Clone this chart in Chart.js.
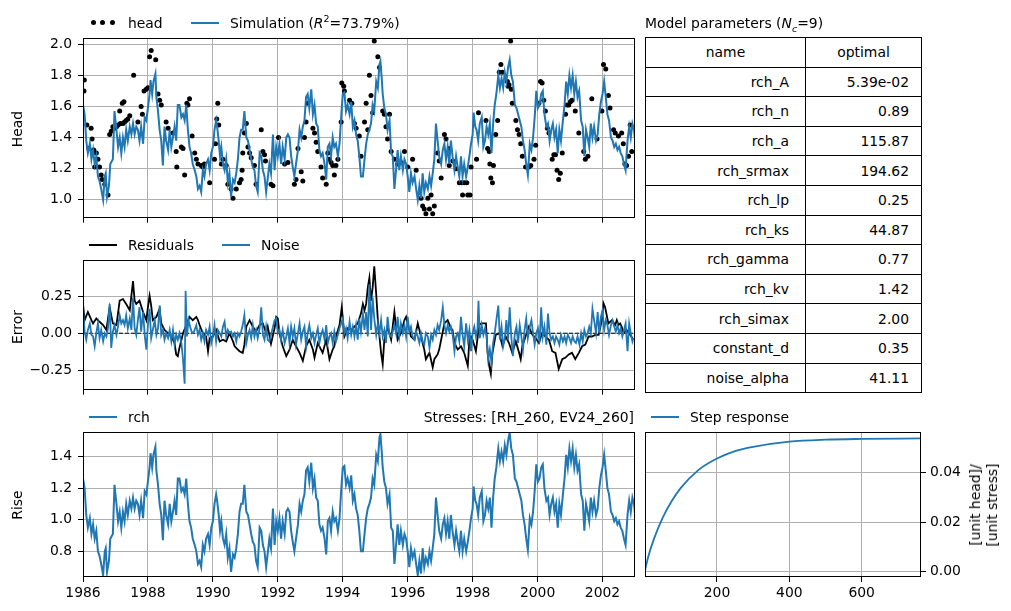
<!DOCTYPE html>
<html><head><meta charset="utf-8">
<script src="https://cdn.jsdelivr.net/npm/chart.js@4.4.0/dist/chart.umd.min.js"></script>
<style>
html,body{margin:0;padding:0;background:#fff;}
body{width:1011px;height:611px;position:relative;overflow:hidden;font-family:"DejaVu Sans",sans-serif;font-size:13.9px;color:#000;}
canvas{position:absolute;}
.t{position:absolute;white-space:nowrap;line-height:16px;height:16px;}
.ln{position:absolute;height:2px;width:28px;}
.dot{position:absolute;width:5px;height:5px;border-radius:50%;background:#000;}
.rot{position:absolute;white-space:nowrap;transform:translate(-50%,-50%) rotate(-90deg);line-height:17px;text-align:center;}
table{position:absolute;left:645px;top:37px;width:277px;border-collapse:collapse;font-size:13.9px;}
td{border:1px solid #000;height:28.6px;padding:0;}
td.n{text-align:right;padding-right:16px;width:143px;}
td.v{text-align:right;padding-right:12px;}
td.h{text-align:center;}
</style>
</head><body>
<canvas id="cHead" width="640" height="232" style="left:0;top:0"></canvas>
<canvas id="cErr" width="640" height="164" style="left:0;top:240px"></canvas>
<canvas id="cRise" width="640" height="201" style="left:0;top:410px"></canvas>
<canvas id="cStep" width="371" height="201" style="left:640px;top:410px"></canvas>

<div class="dot" style="left:91px;top:20px"></div><div class="dot" style="left:100px;top:20px"></div><div class="dot" style="left:110px;top:20px"></div>
<div class="t" style="left:128px;top:15px">head</div>
<div class="ln" style="left:191px;top:22px;background:#1f77b4"></div>
<div class="t" style="left:230px;top:15px">Simulation (<i>R</i><sup style="font-size:9.5px;line-height:0">2</sup>=73.79%)</div>
<div class="t" style="left:645px;top:15px">Model parameters (<i>N<sub style="font-size:9.5px;line-height:0">c</sub></i>=9)</div>

<div class="ln" style="left:89px;top:244px;background:#000"></div>
<div class="t" style="left:128px;top:237px">Residuals</div>
<div class="ln" style="left:222px;top:244px;background:#1f77b4"></div>
<div class="t" style="left:261px;top:237px">Noise</div>

<div class="ln" style="left:89px;top:416px;background:#1f77b4"></div>
<div class="t" style="left:128px;top:409px">rch</div>
<div class="t" style="right:377px;top:409px">Stresses: [RH_260, EV24_260]</div>
<div class="ln" style="left:651px;top:416px;background:#1f77b4"></div>
<div class="t" style="left:690px;top:409px">Step response</div>

<div class="rot" style="left:17px;top:129px">Head</div>
<div class="rot" style="left:17px;top:327px">Error</div>
<div class="rot" style="left:17px;top:505px">Rise</div>
<div class="rot" style="left:984px;top:505px">[unit head]/<br>[unit stress]</div>

<table id="tbl"></table>

<script>
// ---------------- data ----------------
const yearTicks = [1986, 1988, 1990, 1992, 1994, 1996, 1998, 2000, 2002];
const xLimits = [1986, 2003];
const headTicks = [1.0, 1.2, 1.4, 1.6, 1.8, 2.0];
const errorTicks = [-0.25, 0.0, 0.25];
const riseTicks = [0.8, 1.0, 1.2, 1.4];
const stepXTicks = [200, 400, 600];
const stepYTicks = [0.00, 0.02, 0.04];

const simDates = [
1986.00,1986.05,1986.10,1986.15,1986.21,1986.26,1986.31,1986.36,1986.41,1986.46,1986.51,1986.56,1986.62,1986.67,1986.70,1986.74,1986.80,1986.84,1986.92,1986.97,
1987.03,1987.08,1987.13,1987.18,1987.23,1987.28,1987.33,1987.38,1987.44,1987.49,1987.54,1987.59,1987.64,1987.69,1987.74,1987.79,1987.85,1987.90,1987.95,
1988.00,1988.05,1988.08,1988.13,1988.17,1988.23,1988.26,1988.31,1988.36,1988.41,1988.46,1988.51,1988.56,1988.62,1988.67,1988.72,1988.77,1988.82,1988.87,1988.92,1988.97,
1989.03,1989.08,1989.13,1989.18,1989.23,1989.28,1989.33,1989.38,1989.44,1989.49,1989.54,1989.59,1989.64,1989.69,1989.74,1989.79,1989.85,1989.90,1989.95,
1990.00,1990.05,1990.10,1990.13,1990.18,1990.22,1990.26,1990.31,1990.36,1990.41,1990.46,1990.51,1990.56,1990.62,1990.67,1990.72,1990.77,1990.82,1990.87,1990.92,1990.97,
1991.03,1991.08,1991.13,1991.18,1991.23,1991.28,1991.33,1991.38,1991.44,1991.49,1991.54,1991.59,1991.64,1991.74,1991.79,1991.85,1991.90,1991.95,
1992.00,1992.05,1992.10,1992.15,1992.21,1992.26,1992.31,1992.36,1992.41,1992.46,1992.51,1992.56,1992.62,1992.67,1992.72,1992.77,1992.82,1992.87,1992.92,1992.97,
1993.03,1993.08,1993.13,1993.18,1993.23,1993.28,1993.33,1993.38,1993.44,1993.49,1993.54,1993.59,1993.64,1993.69,1993.74,1993.79,1993.85,1993.90,1993.95,
1994.00,1994.05,1994.10,1994.15,1994.21,1994.26,1994.31,1994.36,1994.41,1994.46,1994.51,1994.56,1994.62,1994.67,1994.72,1994.77,1994.82,1994.87,1994.92,1994.97,
1995.03,1995.08,1995.13,1995.16,1995.20,1995.23,1995.28,1995.33,1995.38,1995.44,1995.49,1995.54,1995.59,1995.64,1995.69,1995.74,1995.79,1995.85,1995.90,1995.95,
1996.00,1996.05,1996.10,1996.15,1996.21,1996.26,1996.31,1996.36,1996.41,1996.46,1996.51,1996.56,1996.62,1996.67,1996.72,1996.77,1996.82,1996.87,1996.92,1996.97,
1997.03,1997.08,1997.13,1997.18,1997.23,1997.28,1997.33,1997.38,1997.44,1997.49,1997.54,1997.59,1997.64,1997.69,1997.74,1997.80,1997.85,1997.90,1997.95,
1998.00,1998.03,1998.08,1998.12,1998.17,1998.22,1998.28,1998.33,1998.38,1998.43,1998.48,1998.53,1998.58,1998.63,1998.68,1998.73,1998.79,1998.84,1998.89,1998.94,1998.99,
1999.04,1999.09,1999.14,1999.19,1999.24,1999.30,1999.35,1999.40,1999.45,1999.50,1999.55,1999.60,1999.65,1999.70,1999.76,1999.81,1999.86,1999.91,1999.96,
2000.01,2000.06,2000.11,2000.16,2000.21,2000.27,2000.32,2000.37,2000.42,2000.47,2000.52,2000.57,2000.62,2000.67,2000.72,2000.78,2000.83,2000.88,2000.93,2000.98,
2001.03,2001.08,2001.13,2001.18,2001.23,2001.28,2001.34,2001.39,2001.44,2001.49,2001.54,2001.59,2001.64,2001.69,2001.74,2001.80,2001.85,2001.90,2001.95,
2002.00,2002.05,2002.10,2002.15,2002.20,2002.26,2002.31,2002.36,2002.41,2002.46,2002.51,2002.56,2002.61,2002.66,2002.71,2002.77,2002.82,2002.87,2002.92,2002.97,2003.00];

const simulation = [
1.61,1.55,1.38,1.30,1.36,1.26,1.32,1.23,1.28,1.15,1.12,1.07,1.00,1.15,1.17,1.02,1.09,1.23,1.26,1.57,
1.45,1.34,1.40,1.30,1.40,1.34,1.45,1.38,1.47,1.42,1.49,1.42,1.47,1.45,1.38,1.47,1.36,1.53,1.51,
1.59,1.68,1.77,1.68,1.76,1.81,1.66,1.57,1.45,1.38,1.22,1.47,1.38,1.32,1.45,1.34,1.40,1.47,1.38,1.61,1.61,
1.53,1.55,1.51,1.61,1.45,1.34,1.30,1.23,1.19,1.15,1.07,1.09,1.05,1.19,1.15,1.23,1.26,1.19,1.30,
1.34,1.45,1.51,1.47,1.38,1.28,1.34,1.23,1.19,1.26,1.11,1.17,1.02,1.13,1.11,1.17,1.26,1.40,1.45,1.45,1.57,
1.40,1.38,1.32,1.26,1.21,1.19,1.09,1.05,1.30,1.28,1.19,1.15,1.05,1.23,1.17,1.42,1.19,1.34,
1.28,1.36,1.23,1.34,1.26,1.40,1.42,1.40,1.28,1.21,1.15,1.23,1.32,1.45,1.40,1.47,1.51,1.66,1.68,1.59,
1.71,1.55,1.61,1.49,1.47,1.32,1.28,1.30,1.23,1.13,1.34,1.36,1.28,1.40,1.34,1.36,1.28,1.36,1.53,
1.68,1.69,1.57,1.61,1.55,1.63,1.47,1.51,1.42,1.38,1.28,1.15,1.15,1.26,1.36,1.42,1.45,1.49,1.61,1.57,
1.76,1.72,1.87,1.89,1.78,1.68,1.59,1.55,1.45,1.51,1.30,1.28,1.07,1.19,1.32,1.19,1.28,1.19,1.26,1.23,
1.15,1.05,1.17,1.11,1.15,1.07,1.00,1.09,1.01,1.17,1.05,1.11,1.07,1.15,1.09,1.17,1.26,1.49,1.38,1.28,
1.23,1.32,1.36,1.26,1.34,1.23,1.38,1.28,1.19,1.28,1.21,1.15,1.28,1.15,1.23,1.15,1.21,1.28,1.36,
1.42,1.56,1.47,1.45,1.38,1.49,1.53,1.34,1.38,1.47,1.42,1.49,1.30,1.49,1.61,1.68,1.80,1.72,1.78,1.72,1.82,
1.76,1.85,1.90,1.80,1.76,1.61,1.59,1.55,1.51,1.47,1.38,1.32,1.23,1.16,1.36,1.32,1.40,1.53,1.70,
1.59,1.61,1.68,1.70,1.55,1.47,1.49,1.38,1.45,1.49,1.40,1.45,1.30,1.45,1.38,1.51,1.61,1.76,1.68,1.80,
1.72,1.80,1.68,1.76,1.66,1.70,1.51,1.47,1.28,1.45,1.40,1.34,1.49,1.40,1.47,1.38,1.42,1.55,1.63,
1.68,1.76,1.66,1.55,1.51,1.40,1.38,1.34,1.36,1.32,1.34,1.30,1.28,1.23,1.19,1.38,1.47,1.40,1.49,1.45,1.39];

const rch = [
1.26,1.20,1.03,0.95,1.01,0.91,0.97,0.88,0.93,0.80,0.77,0.72,0.65,0.80,0.82,0.67,0.74,0.88,0.91,1.22,
1.10,0.99,1.05,0.95,1.05,0.99,1.10,1.03,1.12,1.07,1.14,1.07,1.12,1.10,1.03,1.12,1.01,1.18,1.16,
1.24,1.33,1.42,1.33,1.41,1.46,1.31,1.22,1.10,1.03,0.87,1.12,1.03,0.97,1.10,0.99,1.05,1.12,1.03,1.26,1.26,
1.18,1.20,1.16,1.26,1.10,0.99,0.95,0.88,0.84,0.80,0.72,0.74,0.70,0.84,0.80,0.88,0.91,0.84,0.95,
0.99,1.10,1.16,1.12,1.03,0.93,0.99,0.88,0.84,0.91,0.76,0.82,0.67,0.78,0.76,0.82,0.91,1.05,1.10,1.10,1.22,
1.05,1.03,0.97,0.91,0.86,0.84,0.74,0.70,0.95,0.93,0.84,0.80,0.70,0.88,0.82,1.07,0.84,0.99,
0.93,1.01,0.88,0.99,0.91,1.05,1.07,1.05,0.93,0.86,0.80,0.88,0.97,1.10,1.05,1.12,1.16,1.31,1.33,1.24,
1.36,1.20,1.26,1.14,1.12,0.97,0.93,0.95,0.88,0.78,0.99,1.01,0.93,1.05,0.99,1.01,0.93,1.01,1.18,
1.33,1.34,1.22,1.26,1.20,1.28,1.12,1.16,1.07,1.03,0.93,0.80,0.80,0.91,1.01,1.07,1.10,1.14,1.26,1.22,
1.41,1.37,1.52,1.54,1.43,1.33,1.24,1.20,1.10,1.16,0.95,0.93,0.72,0.84,0.97,0.84,0.93,0.84,0.91,0.88,
0.80,0.70,0.82,0.76,0.80,0.72,0.65,0.74,0.66,0.82,0.70,0.76,0.72,0.80,0.74,0.82,0.91,1.14,1.03,0.93,
0.88,0.97,1.01,0.91,0.99,0.88,1.03,0.93,0.84,0.93,0.86,0.80,0.93,0.80,0.88,0.80,0.86,0.93,1.01,
1.07,1.21,1.12,1.10,1.03,1.14,1.18,0.99,1.03,1.12,1.07,1.14,0.95,1.14,1.26,1.33,1.45,1.37,1.43,1.37,1.47,
1.41,1.50,1.55,1.45,1.41,1.26,1.24,1.20,1.16,1.12,1.03,0.97,0.88,0.81,1.01,0.97,1.05,1.18,1.35,
1.24,1.26,1.33,1.35,1.20,1.12,1.14,1.03,1.10,1.14,1.05,1.10,0.95,1.10,1.03,1.16,1.26,1.41,1.33,1.45,
1.37,1.45,1.33,1.41,1.31,1.35,1.16,1.12,0.93,1.10,1.05,0.99,1.14,1.05,1.12,1.03,1.07,1.20,1.28,
1.33,1.41,1.31,1.20,1.16,1.05,1.03,0.99,1.01,0.97,0.99,0.95,0.93,0.88,0.84,1.03,1.12,1.05,1.14,1.10,1.04];

const headDates = [
1986.03,1986.04,1986.12,1986.18,1986.25,1986.28,1986.33,1986.36,1986.41,1986.46,1986.51,1986.56,1986.59,1986.67,1986.77,1986.82,1986.87,1986.92,1986.97,
1987.03,1987.08,1987.13,1987.15,1987.21,1987.23,1987.26,1987.28,1987.33,1987.38,1987.44,1987.56,1987.69,1987.79,1987.83,1987.88,1987.95,
1988.00,1988.05,1988.10,1988.24,1988.31,1988.36,1988.41,1988.56,1988.62,1988.77,1988.87,1988.89,
1989.03,1989.08,1989.13,1989.20,1989.23,1989.28,1989.36,1989.44,1989.49,1989.54,1989.64,1989.69,1989.74,1989.90,
1990.05,1990.08,1990.12,1990.15,1990.18,1990.26,1990.31,1990.41,1990.46,1990.56,1990.62,1990.72,1990.82,1990.87,1990.90,1990.92,1990.97,
1991.03,1991.08,1991.13,1991.18,1991.28,1991.33,1991.49,1991.54,1991.59,1991.62,1991.79,1991.85,
1992.02,1992.21,1992.31,1992.51,1992.56,1992.62,1992.72,1992.77,1992.82,1992.87,1992.92,
1993.08,1993.13,1993.18,1993.23,1993.33,1993.38,1993.49,1993.54,1993.59,1993.64,1993.69,1993.74,1993.79,1993.85,1993.95,1993.97,
1994.03,1994.05,1994.21,1994.28,1994.36,1994.41,1994.51,1994.56,1994.67,1994.72,1994.77,1994.82,1994.87,1994.92,1994.97,
1995.08,1995.13,1995.23,1995.28,1995.33,1995.38,1995.44,1995.49,1995.59,1995.69,1995.79,1995.90,
1996.00,1996.15,1996.26,1996.41,1996.46,1996.51,1996.56,1996.62,1996.67,1996.72,1996.77,1996.82,1996.92,1996.97,
1997.03,1997.13,1997.18,1997.28,1997.29,1997.39,1997.49,1997.59,1997.66,1997.69,1997.74,1997.82,1997.85,1997.92,1997.95,
1998.12,1998.18,1998.41,1998.46,1998.51,1998.53,1998.56,1998.61,1998.64,1998.71,1998.77,1998.82,1998.87,1998.92,
1999.07,1999.09,1999.12,1999.17,1999.19,1999.22,1999.33,1999.38,1999.43,1999.48,1999.53,1999.63,1999.73,1999.79,1999.89,1999.94,
2000.04,2000.09,2000.14,2000.19,2000.24,2000.30,2000.35,2000.45,2000.50,2000.55,2000.60,2000.65,2000.70,2000.76,2000.86,2000.91,2000.96,
2001.01,2001.06,2001.16,2001.27,2001.42,2001.47,2001.55,2001.67,2001.83,2001.98,
2002.03,2002.10,2002.18,2002.23,2002.34,2002.39,2002.49,2002.59,2002.64,2002.69,2002.74,2002.80,2002.85,2002.90];

const head = [
1.70,1.77,1.48,1.33,1.46,1.39,1.32,1.21,1.30,1.26,1.21,1.16,1.13,1.10,1.03,1.42,1.44,1.47,1.46,
1.47,1.48,1.57,1.49,1.62,1.49,1.63,1.50,1.51,1.52,1.54,1.80,1.50,1.60,1.55,1.70,1.71,
1.72,1.92,1.96,1.90,1.68,1.64,1.61,1.50,1.46,1.43,1.31,1.21,
1.34,1.33,1.16,1.62,1.61,1.65,1.41,1.30,1.26,1.23,1.22,1.21,1.23,1.11,
1.26,1.36,1.52,1.62,1.48,1.23,1.26,1.22,1.10,1.07,1.01,1.07,1.11,1.13,1.19,1.30,1.43,
1.49,1.34,1.30,1.27,1.22,1.10,1.45,1.31,1.29,1.25,1.10,1.09,
1.40,1.23,1.24,1.10,1.13,1.33,1.18,1.12,1.40,1.50,1.62,
1.46,1.43,1.37,1.31,1.21,1.14,1.10,1.30,1.26,1.24,1.22,1.16,1.22,1.26,1.50,1.75,
1.73,1.70,1.64,1.62,1.49,1.46,1.41,1.28,1.50,1.62,1.45,1.80,1.67,1.56,2.02,
1.92,1.85,1.57,1.55,1.47,1.39,1.55,1.31,1.26,1.23,1.24,1.31,
1.21,1.26,1.19,1.01,0.96,0.94,0.91,1.01,0.94,1.03,0.91,0.96,1.30,1.25,
1.14,1.42,1.39,1.22,1.33,1.25,1.20,1.11,1.11,1.03,1.11,1.11,1.03,1.03,1.21,
1.26,1.56,1.51,1.33,1.31,1.23,1.14,1.11,1.22,1.42,1.51,1.82,1.87,1.82,
1.76,1.73,1.74,2.02,1.71,1.62,1.51,1.45,1.42,1.36,1.28,1.21,1.21,1.22,1.26,1.35,
1.62,1.76,1.75,1.64,1.57,1.46,1.43,1.26,1.29,1.29,1.19,1.13,1.17,1.30,1.55,1.61,1.61,
1.63,1.64,1.57,1.43,1.31,1.26,1.28,1.65,1.39,1.57,
1.87,1.84,1.67,1.59,1.45,1.43,1.41,1.43,1.36,1.23,1.22,1.28,1.48,1.31];

const residualDates = [
1986.00,1986.05,1986.15,1986.26,1986.31,1986.41,1986.51,1986.62,1986.72,1986.82,1986.92,1987.03,1987.13,1987.23,1987.33,1987.44,1987.54,1987.59,1987.64,1987.74,1987.85,1987.95,
1988.00,1988.05,1988.10,1988.15,1988.26,1988.36,1988.41,1988.51,1988.62,1988.72,1988.82,1988.87,1988.92,1988.97,1989.08,1989.18,1989.28,1989.38,1989.49,1989.54,1989.59,1989.69,1989.79,1989.85,1989.90,
1990.00,1990.10,1990.21,1990.31,1990.41,1990.51,1990.62,1990.67,1990.77,1990.82,1990.92,1990.97,1991.03,1991.13,1991.23,1991.33,1991.44,1991.54,1991.64,1991.69,
1991.79,1991.90,1991.95,1992.00,1992.05,1992.15,1992.26,1992.36,1992.46,1992.56,1992.67,1992.77,1992.87,1992.97,1993.08,1993.13,1993.23,1993.33,1993.38,1993.49,1993.59,1993.69,1993.74,1993.79,1993.90,1993.97,
1994.05,1994.15,1994.26,1994.36,1994.46,1994.56,1994.62,1994.67,1994.72,1994.77,1994.82,1994.87,1994.92,1994.97,1995.03,1995.08,1995.13,1995.18,1995.23,1995.28,1995.38,1995.49,1995.59,1995.64,1995.69,1995.79,1995.90,1995.95,
1996.00,1996.10,1996.21,1996.31,1996.41,1996.51,1996.56,1996.67,1996.77,1996.82,1996.92,1996.97,1997.03,1997.13,1997.23,1997.33,1997.38,
1997.44,1997.54,1997.64,1997.74,1997.85,1997.90,1997.95,1998.00,1998.10,1998.20,1998.26,1998.41,1998.46,1998.51,1998.56,1998.61,1998.71,1998.82,1998.92,
1999.02,1999.12,1999.22,1999.33,1999.43,1999.48,1999.53,1999.63,1999.73,1999.84,1999.94,2000.04,2000.14,2000.24,2000.35,2000.45,2000.55,2000.65,2000.76,2000.86,2000.96,
2001.06,2001.16,2001.27,2001.37,2001.47,2001.57,2001.67,2001.78,2001.88,2001.98,2002.03,2002.08,2002.18,2002.29,2002.39,2002.44,2002.49,2002.54,2002.59,2002.64,2002.74,2002.85,2002.95];

const residuals = [
0.197,0.088,0.143,0.088,0.066,0.099,0.077,0.055,0.022,0.175,0.066,0.055,0.219,0.230,0.197,0.154,0.351,0.219,0.197,0.219,0.143,0.088,
0.175,0.252,0.186,0.088,0.110,0.164,0.066,0.022,0.000,-0.022,-0.066,-0.143,-0.154,-0.099,0.000,0.055,0.110,0.088,0.110,0.088,0.055,0.000,-0.022,-0.121,-0.033,
-0.022,0.022,-0.055,-0.044,-0.055,0.000,-0.055,-0.088,-0.110,-0.121,-0.132,-0.077,0.044,0.088,0.044,0.011,0.055,0.066,0.000,0.044,
-0.070,0.033,0.110,0.099,0.000,-0.088,-0.154,-0.110,-0.044,-0.088,-0.132,-0.186,-0.088,-0.044,-0.110,-0.164,-0.066,-0.110,-0.132,-0.044,-0.175,-0.110,-0.088,-0.022,0.055,0.175,
-0.022,0.033,0.022,0.044,0.066,0.132,0.197,0.154,0.197,0.307,0.373,0.219,0.307,0.450,0.263,0.088,-0.022,-0.132,-0.208,-0.044,0.044,-0.044,0.143,0.044,-0.044,0.000,0.088,0.110,
0.066,-0.022,-0.044,0.066,-0.022,-0.110,-0.175,-0.132,-0.230,-0.175,-0.143,-0.110,-0.044,0.066,0.088,0.033,0.022,
-0.066,-0.110,-0.088,-0.132,-0.219,-0.044,-0.022,-0.044,-0.121,0.055,0.066,0.066,-0.132,-0.219,-0.274,-0.132,-0.011,0.000,-0.088,
-0.022,-0.066,-0.132,-0.055,-0.132,-0.175,-0.088,-0.022,0.044,-0.011,-0.033,-0.066,0.000,-0.022,-0.044,-0.121,-0.132,-0.241,-0.175,-0.164,-0.143,
-0.132,-0.175,-0.132,-0.088,-0.077,-0.022,-0.022,-0.011,-0.011,0.088,0.202,0.175,0.066,0.088,0.055,0.088,0.055,0.066,0.044,0.000,0.022,-0.011,-0.044];

const noiseDates = [
1986.00,1986.05,1986.10,1986.15,1986.21,1986.26,1986.31,1986.36,1986.41,1986.46,1986.51,1986.56,1986.62,1986.67,1986.72,1986.77,1986.82,1986.87,1986.92,1986.97,
1987.03,1987.08,1987.13,1987.18,1987.23,1987.28,1987.33,1987.38,1987.44,1987.49,1987.54,1987.59,1987.64,1987.69,1987.74,1987.79,1987.85,1987.90,1987.95,
1988.00,1988.05,1988.10,1988.15,1988.21,1988.26,1988.31,1988.36,1988.41,1988.46,1988.51,1988.56,1988.62,1988.67,1988.72,1988.77,1988.82,1988.87,1988.92,1988.97,
1989.03,1989.08,1989.13,1989.16,1989.20,1989.25,1989.30,1989.36,1989.42,1989.49,1989.54,1989.59,1989.64,1989.69,1989.74,1989.79,1989.85,1989.90,1989.95,
1990.00,1990.05,1990.10,1990.15,1990.21,1990.26,1990.31,1990.36,1990.41,1990.46,1990.51,1990.56,1990.62,1990.67,1990.72,1990.77,1990.82,1990.87,1990.92,1990.97,
1991.03,1991.08,1991.13,1991.18,1991.23,1991.28,1991.33,1991.38,1991.44,1991.49,1991.54,1991.59,1991.64,1991.69,1991.74,1991.79,1991.85,1991.90,1991.95,
1992.00,1992.05,1992.10,1992.15,1992.21,1992.26,1992.31,1992.36,1992.41,1992.46,1992.51,1992.56,1992.62,1992.67,1992.72,1992.77,1992.82,1992.87,1992.92,1992.97,
1993.03,1993.08,1993.13,1993.18,1993.23,1993.28,1993.33,1993.38,1993.44,1993.49,1993.54,1993.59,1993.64,1993.69,1993.74,1993.79,1993.85,1993.90,1993.95,
1994.00,1994.05,1994.10,1994.15,1994.21,1994.26,1994.31,1994.36,1994.41,1994.46,1994.51,1994.56,1994.62,1994.67,1994.72,1994.77,1994.82,1994.87,1994.92,1994.97,
1995.03,1995.08,1995.13,1995.18,1995.23,1995.28,1995.33,1995.38,1995.44,1995.49,1995.54,1995.59,1995.64,1995.69,1995.74,1995.79,1995.85,1995.90,1995.95,
1996.00,1996.05,1996.10,1996.15,1996.21,1996.26,1996.31,1996.36,1996.41,1996.46,1996.51,1996.56,1996.62,1996.67,1996.72,1996.77,1996.82,1996.87,1996.92,1996.97,
1997.03,1997.08,1997.13,1997.18,1997.23,1997.28,1997.33,1997.38,1997.44,1997.49,1997.54,1997.59,1997.64,1997.69,1997.74,1997.80,1997.85,1997.90,1997.95,
1998.00,1998.05,1998.10,1998.15,1998.18,1998.22,1998.28,1998.33,1998.38,1998.43,1998.48,1998.53,1998.58,1998.63,1998.68,1998.73,1998.79,1998.84,1998.89,1998.94,1998.99,
1999.04,1999.09,1999.14,1999.19,1999.24,1999.30,1999.35,1999.40,1999.45,1999.50,1999.55,1999.60,1999.65,1999.70,1999.76,1999.81,1999.86,1999.91,1999.96,
2000.01,2000.06,2000.11,2000.16,2000.21,2000.27,2000.32,2000.37,2000.42,2000.47,2000.52,2000.57,2000.62,2000.67,2000.72,2000.78,2000.83,2000.88,2000.93,2000.98,
2001.03,2001.08,2001.13,2001.18,2001.23,2001.29,2001.34,2001.39,2001.44,2001.49,2001.54,2001.59,2001.64,2001.69,2001.74,2001.80,2001.85,2001.90,2001.95,
2002.00,2002.05,2002.10,2002.15,2002.20,2002.26,2002.31,2002.36,2002.41,2002.46,2002.51,2002.56,2002.61,2002.66,2002.71,2002.77,2002.82,2002.87,2002.92,2002.95];

const noise = [
0.175,0.011,-0.044,0.022,0.066,-0.011,-0.022,-0.088,0.000,0.066,-0.033,0.022,-0.055,0.000,-0.022,0.033,0.197,-0.099,0.011,0.055,
-0.011,0.044,0.121,0.066,0.088,0.055,0.121,0.033,0.099,0.022,0.241,0.033,-0.011,0.088,0.175,0.011,0.143,-0.011,-0.110,
0.055,0.164,-0.033,0.022,0.088,-0.011,0.033,0.186,-0.011,0.022,-0.044,0.000,-0.033,0.022,-0.055,0.022,-0.077,-0.011,-0.044,0.000,
-0.066,-0.175,-0.340,0.285,-0.022,0.088,0.044,0.000,0.011,0.055,-0.011,0.022,-0.044,0.000,-0.055,0.022,-0.011,0.044,-0.066,
-0.022,0.055,-0.055,0.022,0.000,-0.022,0.044,0.077,-0.022,0.022,0.000,0.011,-0.022,0.000,-0.055,0.000,-0.022,0.011,0.055,0.121,
-0.066,-0.011,0.022,-0.033,0.055,-0.022,0.022,-0.033,0.033,0.175,-0.011,-0.044,0.044,-0.044,-0.055,-0.011,0.044,0.088,0.099,
0.000,0.022,-0.044,0.022,-0.066,-0.022,0.033,-0.066,0.044,-0.022,0.033,-0.077,0.000,0.066,-0.044,0.011,0.044,-0.088,0.000,0.055,
-0.033,0.000,-0.066,-0.011,0.033,-0.066,-0.011,0.022,-0.044,0.055,-0.066,-0.022,0.000,-0.066,0.011,-0.055,-0.011,0.033,0.066,
0.099,0.000,0.033,-0.033,0.077,-0.011,0.044,-0.022,0.055,-0.044,0.099,0.011,0.132,0.022,0.143,-0.022,0.329,0.022,0.241,0.099,
-0.011,0.066,0.000,0.088,-0.022,0.022,-0.066,0.110,-0.011,-0.022,0.011,0.055,0.000,0.110,-0.022,0.066,0.000,0.055,-0.022,
0.110,0.011,0.044,-0.022,-0.044,0.011,-0.022,-0.066,0.000,-0.055,-0.077,0.000,-0.022,-0.099,-0.011,-0.044,0.022,-0.011,0.055,0.022,
0.088,0.175,0.055,0.000,0.055,0.011,0.044,0.000,-0.121,-0.022,0.000,-0.055,0.110,-0.011,-0.088,0.066,-0.044,0.022,-0.121,
0.000,0.044,-0.022,0.033,0.219,-0.033,0.055,-0.011,0.033,-0.022,-0.175,-0.110,-0.197,-0.066,0.000,0.088,0.186,-0.044,0.044,-0.088,-0.033,
0.088,-0.044,0.175,-0.022,-0.154,0.000,0.044,-0.066,0.055,-0.022,-0.110,0.022,0.099,-0.033,0.044,0.088,0.000,-0.077,0.000,
0.033,-0.066,0.175,-0.022,0.044,-0.077,0.132,0.000,-0.044,-0.022,-0.066,-0.022,-0.044,-0.077,-0.011,-0.055,-0.022,-0.066,-0.011,-0.033,
-0.066,-0.022,-0.055,-0.066,-0.022,-0.077,0.000,-0.055,0.022,-0.022,0.000,0.044,0.000,0.164,0.088,0.000,0.143,0.000,0.110,
0.154,0.022,0.088,0.055,-0.011,0.055,0.088,0.044,0.011,0.055,0.000,0.033,-0.022,0.022,0.066,-0.121,0.066,0.000,-0.055,-0.033];

const stepTimes = [1, 10, 25, 50, 75, 100, 150, 200, 250, 300, 400, 500, 600, 764];
const stepResponse = [0.0006, 0.0061, 0.0130, 0.0219, 0.0286, 0.0339, 0.0413, 0.0458, 0.0488, 0.0505, 0.0526, 0.0534, 0.0537, 0.0539];

const paramNames = ['rch_A','rch_n','rch_a','rch_srmax','rch_lp','rch_ks','rch_gamma','rch_kv','rch_simax','constant_d','noise_alpha'];
const paramValues = ['5.39e-02','0.89','115.87','194.62','0.25','44.87','0.77','1.42','2.00','0.35','41.11'];

// ---------------- table ----------------
(function(){
  const t = document.getElementById('tbl');
  let h = '<tr><td class="h">name</td><td class="h">optimal</td></tr>';
  paramNames.forEach((n,i)=>{ h += '<tr><td class="n">'+n+'</td><td class="v">'+paramValues[i]+'</td></tr>'; });
  t.innerHTML = h;
})();

// ---------------- charts ----------------
const BLUE = '#1f77b4';
const FONT = {family:'"DejaVu Sans", sans-serif', size:13.9};
Chart.defaults.color = '#000';
const pts = (xs, ys) => xs.map((x,i)=>({x:x, y:ys[i]}));

const frame = {id:'frame', afterDraw(c){
  const a = c.chartArea, ctx = c.ctx;
  ctx.save(); ctx.strokeStyle='#000'; ctx.lineWidth=1;
  const l=Math.round(a.left)+0.5, t=Math.round(a.top)+0.5, r=Math.round(a.right)-0.5, b=Math.round(a.bottom)-0.5;
  ctx.strokeRect(l,t,r-l,b-t); ctx.restore();
}};

function grid(){ return {color:'#b0b0b0', lineWidth:1, tickLength:5, tickColor:'#000', tickWidth:1, drawTicks:true}; }

function xAxis(lims, tickVals, showLabels, h, fmt){
  return {type:'linear', position:'bottom', min:lims[0], max:lims[1],
    afterBuildTicks(s){ s.ticks = tickVals.map(v=>({value:v})); },
    ticks:{display:showLabels, font:FONT, color:'#000', padding:3, maxRotation:0, autoSkip:false, callback:fmt},
    grid:grid(), border:{display:false}, afterFit(s){ s.height = h; }};
}
function yAxis(pos, min, max, tickVals, dec, w, pad){
  return {type:'linear', position:pos, min:min, max:max,
    afterBuildTicks(s){ s.ticks = tickVals.map(v=>({value:v})); },
    ticks:{font:FONT, color:'#000', padding:pad, autoSkip:false,
      callback:v=>v.toFixed(dec).replace('-','\u2212')},
    grid:grid(), border:{display:false}, afterFit(s){ s.width = w; }};
}
function baseOptions(padding, scales){
  return {responsive:false, animation:false, devicePixelRatio:1, events:[],
    layout:{padding:padding},
    plugins:{legend:{display:false}, tooltip:{enabled:false}},
    elements:{line:{tension:0}}, scales:scales};
}
const yearFmt = v => String(v);

new Chart(document.getElementById('cHead'), {
  type:'line',
  data:{datasets:[
    {label:'Simulation', data:pts(simDates, simulation), borderColor:BLUE, borderWidth:2, pointRadius:0, order:1},
    {label:'head', data:pts(headDates, head), showLine:false, pointRadius:2.5, pointBackgroundColor:'#000', pointBorderWidth:0, order:2}
  ]},
  options: baseOptions({top:38, right:5, left:0, bottom:0},
    {x:xAxis(xLimits, yearTicks, false, 11, yearFmt), y:yAxis('left', 0.885, 2.04, headTicks, 1, 83, 6)}),
  plugins:[frame]
});

new Chart(document.getElementById('cErr'), {
  type:'line',
  data:{datasets:[
    {label:'Noise', data:pts(noiseDates, noise), borderColor:BLUE, borderWidth:1.8, pointRadius:0, order:1},
    {label:'Residuals', data:pts(residualDates, residuals), borderColor:'#000', borderWidth:1.8, pointRadius:0, order:2},
    {label:'zero', data:pts(xLimits, [0, 0]), borderColor:'#000', borderWidth:1, borderDash:[4,2], pointRadius:0, order:3}
  ]},
  options: baseOptions({top:20, right:5, left:0, bottom:0},
    {x:xAxis(xLimits, yearTicks, false, 11, yearFmt), y:yAxis('left', -0.38, 0.493, errorTicks, 2, 83, 6)}),
  plugins:[frame]
});

new Chart(document.getElementById('cRise'), {
  type:'line',
  data:{datasets:[
    {label:'rch', data:pts(simDates, rch), borderColor:BLUE, borderWidth:2, pointRadius:0}
  ]},
  options: baseOptions({top:22, right:5, left:0, bottom:0},
    {x:xAxis(xLimits, yearTicks, true, 34, yearFmt), y:yAxis('left', 0.638, 1.554, riseTicks, 1, 83, 6)}),
  plugins:[frame]
});

new Chart(document.getElementById('cStep'), {
  type:'line',
  data:{datasets:[
    {label:'Step response', data:pts(stepTimes, stepResponse), borderColor:BLUE, borderWidth:1.8, pointRadius:0, cubicInterpolationMode:'monotone'}
  ]},
  options: baseOptions({top:22, right:0, left:5, bottom:0}, {
    x:xAxis([1, 764], stepXTicks, true, 34, v=>String(v)),
    y:yAxis('right', -0.0021, 0.0565, stepYTicks, 2, 90, 4)
  }),
  plugins:[frame]
});
</script>
</body></html>
